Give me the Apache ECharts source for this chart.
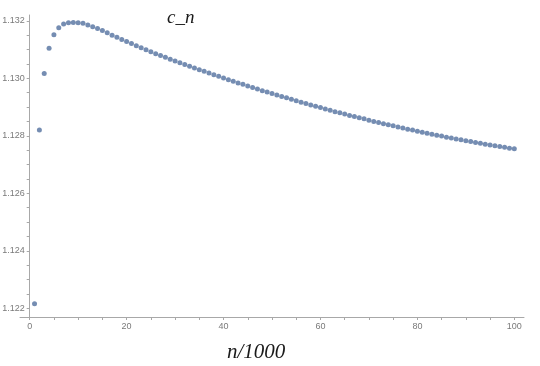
<!DOCTYPE html>
<html>
<head>
<meta charset="utf-8">
<script src="https://cdn.jsdelivr.net/npm/echarts@6/dist/echarts.min.js"></script>
<style>html,body{margin:0;padding:0;background:#fff;}#main{width:540px;height:366px;}</style>
</head>
<body>
<div id="main"></div>
<script>
// n / 1000
const nValues = [1,2,3,4,5,6,7,8,9,10,11,12,13,14,15,16,17,18,19,20,21,22,23,24,25,26,27,28,29,30,31,32,33,34,35,36,37,38,39,40,41,42,43,44,45,46,47,48,49,50,51,52,53,54,55,56,57,58,59,60,61,62,63,64,65,66,67,68,69,70,71,72,73,74,75,76,77,78,79,80,81,82,83,84,85,86,87,88,89,90,91,92,93,94,95,96,97,98,99,100];
// c_n
const cValues = [1.12216,1.12820,1.13017,1.13104,1.13151,1.13176,1.13189,1.13193,1.13194,1.13193,
1.13191,1.13185,1.13179,1.13173,1.13166,1.13158,1.13150,1.13143,1.13135,1.13128,
1.13121,1.13113,1.13106,1.13099,1.13092,1.13085,1.13079,1.13073,1.13066,1.13060,
1.13054,1.13048,1.13042,1.13036,1.13030,1.13024,1.13018,1.13012,1.13007,1.13001,
1.12995,1.12990,1.12984,1.12979,1.12973,1.12968,1.12963,1.12957,1.12952,1.12947,
1.12942,1.12937,1.12932,1.12927,1.12922,1.12917,1.12912,1.12907,1.12903,1.12898,
1.12893,1.12889,1.12884,1.12880,1.12876,1.12871,1.12867,1.12863,1.12859,1.12854,
1.12850,1.12846,1.12842,1.12838,1.12835,1.12831,1.12827,1.12823,1.12820,1.12816,
1.12812,1.12809,1.12805,1.12802,1.12799,1.12795,1.12792,1.12789,1.12786,1.12783,
1.12780,1.12777,1.12774,1.12771,1.12768,1.12765,1.12763,1.12760,1.12757,1.12755];
const xTickLabels = [0,20,40,60,80,100];
const xTicks = [0,5,10,15,20,25,30,35,40,45,50,55,60,65,70,75,80,85,90,95,100];
const yTickLabels = [1.122,1.124,1.126,1.128,1.130,1.132];
const yTicks = [1.122,1.1225,1.123,1.1235,1.124,1.1245,1.125,1.1255,1.126,1.1265,1.127,1.1275,1.128,1.1285,1.129,1.1295,1.13,1.1305,1.131,1.1315,1.132];
const plotTitle = 'c_n';
const xName = 'n/1000';

const chart = echarts.init(document.getElementById('main'), null, {renderer: 'canvas'});
const axisColor = '#a8a8a8';
const labelColor = '#7a7a7a';
const tickFont = "'Liberation Sans', Arial, sans-serif";
chart.setOption({
  animation: false,
  backgroundColor: '#ffffff',
  title: [
    {text: plotTitle, left: 162, top: 3,
     textStyle: {fontFamily: 'Liberation Serif', fontStyle: 'italic', fontWeight: 'normal', fontSize: 19, color: '#1a1a1a'}},
    {text: xName, left: 222, top: 337,
     textStyle: {fontFamily: 'Liberation Serif', fontStyle: 'italic', fontWeight: 'normal', fontSize: 21, color: '#1a1a1a'}}
  ],
  grid: {left: 20, right: 16, top: 15, bottom: 49, containLabel: false, outerBoundsMode: 'none'},
  xAxis: {
    type: 'value', min: -2, max: 102,
    axisLine: {show: true, onZero: false, lineStyle: {color: axisColor, width: 1}},
    axisTick: {show: true, length: 3, customValues: xTicks, lineStyle: {color: axisColor}},
    axisLabel: {customValues: xTickLabels, color: labelColor, fontSize: 9, fontFamily: tickFont, margin: 5},
    splitLine: {show: false}
  },
  yAxis: {
    type: 'value', min: 1.1217, max: 1.1322,
    offset: -9.7,
    axisLine: {show: true, onZero: false, lineStyle: {color: axisColor, width: 1}},
    axisTick: {show: true, length: 3, customValues: yTicks, lineStyle: {color: axisColor}},
    axisLabel: {customValues: yTickLabels, color: labelColor, fontSize: 9, fontFamily: tickFont, margin: 5,
      formatter: v => v.toFixed(3)},
    splitLine: {show: false}
  },
  series: [{
    type: 'scatter',
    data: nValues.map((n, i) => [n, cValues[i]]),
    symbol: 'circle',
    symbolSize: 5,
    itemStyle: {color: '#52709f'}
  }]
});
</script>
</body>
</html>
